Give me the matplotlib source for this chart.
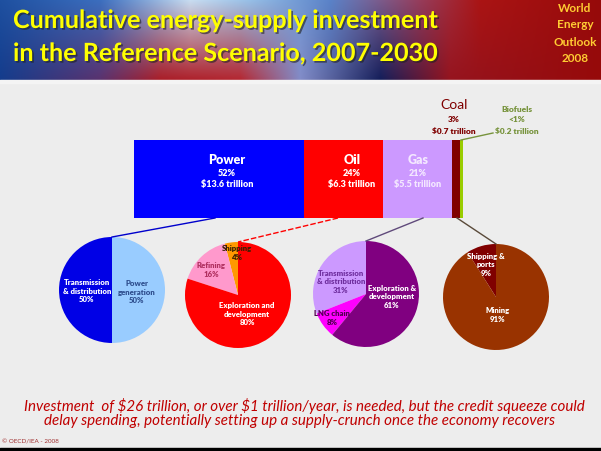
import numpy as np
import matplotlib
matplotlib.use("Agg")
from matplotlib import pyplot as plt
import matplotlib.patheffects as pe

plt.rcParams['font.family'] = ['Lato', 'DejaVu Sans']
plt.rcParams['text.parse_math'] = False

# data
sectors = ["Power", "Oil", "Gas", "Coal", "Biofuels"]
invest_trillion = [13.6, 6.3, 5.5, 0.7, 0.2]
sector_shares = ["52%", "24%", "21%", "3%", "<1%"]
sector_colors = ["#0000FF", "#FF0000", "#CC99FF", "#800000", "#99CC00"]

# breakdowns, listed counter-clockwise from 12 o'clock
power_parts = ["Transmission\n& distribution", "Power\ngeneration"]
power_shares = [50, 50]
oil_parts = ["Shipping", "Refining", "Exploration and\ndevelopment"]
oil_shares = [4, 16, 80]
gas_parts = ["Transmission\n& distribution", "LNG chain", "Exploration &\ndevelopment"]
gas_shares = [31, 8, 61]
coal_parts = ["Shipping &\nports", "Mining"]
coal_shares = [9, 91]

W, H = 601, 451
BG = "#EDEDED"

fig = plt.figure(figsize=(W / 100, H / 100), dpi=100)
fig.patch.set_facecolor(BG)

# background axes in pixel coords
bg = fig.add_axes([0, 0, 1, 1])
bg.set_xlim(0, W)
bg.set_ylim(H, 0)
bg.axis('off')
bg.set_facecolor(BG)

# header picture: rough blue / white / red blend
xs = np.arange(W)
top_stops = [(0, (30, 80, 160)), (100, (60, 110, 190)), (190, (200, 220, 240)), (250, (150, 190, 230)),
             (330, (90, 130, 200)), (420, (150, 60, 90)), (480, (170, 20, 20)), (601, (150, 10, 10))]
bot_stops = [(0, (20, 60, 140)), (100, (90, 50, 110)), (160, (170, 30, 40)), (240, (180, 40, 50)),
             (300, (130, 140, 200)), (380, (20, 30, 90)), (450, (150, 20, 30)), (601, (150, 10, 10))]


def ramp(stops):
    px = [s[0] for s in stops]
    return np.stack([np.interp(xs, px, [s[1][k] for s in stops]) for k in range(3)], axis=1)


top_row, bot_row = ramp(top_stops), ramp(bot_stops)
t = np.linspace(0, 1, 80)[:, None, None]
header = ((1 - t) * top_row[None] + t * bot_row[None]) / 255.0
bg.imshow(header, extent=(0, W, 80, 0), aspect='auto', interpolation='bilinear')
bg.fill_between([0, W], 80, 83, color="#F4F4F4")
bg.fill_between([0, W], 448, 451, color="black")

# stacked bar
total = sum(invest_trillion)
bar_left, bar_right, bar_top, bar_bot = 134, 463, 140, 218
bar_ax = fig.add_axes([bar_left / W, (H - bar_bot) / H, (bar_right - bar_left) / W, (bar_bot - bar_top) / H])
lefts = np.concatenate([[0], np.cumsum(invest_trillion)[:-1]])
bar_ax.barh(0.5, invest_trillion, left=lefts, height=1, color=sector_colors, linewidth=0)
bar_ax.set_xlim(0, total)
bar_ax.set_ylim(0, 1)
bar_ax.axis('off')

# pies
R = 53
pie_centres = [(112, 290), (238, 295), (366, 294), (496, 297)]
pie_colors = [["#0000E6", "#99CCFF"],
              ["#FF9900", "#FF99CC", "#FF0000"],
              ["#CC99FF", "#FF00FF", "#800080"],
              ["#800000", "#993300"]]
all_shares = [power_shares, oil_shares, gas_shares, coal_shares]
for (cx, cy), shares, cols in zip(pie_centres, all_shares, pie_colors):
    ax = fig.add_axes([(cx - R) / W, (H - cy - R) / H, 2 * R / W, 2 * R / H])
    ax.pie(shares, colors=cols, startangle=90, counterclock=True, radius=1,
           wedgeprops=dict(linewidth=0))
    ax.set_xlim(-1, 1)
    ax.set_ylim(-1, 1)
    ax.axis('off')

# overlay for text and leader lines
top = fig.add_axes([0, 0, 1, 1])
top.set_xlim(0, W)
top.set_ylim(H, 0)
top.axis('off')
top.patch.set_alpha(0)

shadow = [pe.withSimplePatchShadow(offset=(1.2, -1.2), shadow_rgbFace='#202020', alpha=0.6)]
t1 = top.text(13, 28, "Cumulative energy-supply investment", color="#FFFF00", fontsize=18,
              fontweight='bold', ha='left', va='baseline', path_effects=shadow)
t2 = top.text(13, 61, "in the Reference Scenario, 2007-2030", color="#FFFF00", fontsize=18,
              fontweight='bold', ha='left', va='baseline', path_effects=shadow)
for txt, yy in zip(["World", "Energy", "Outlook", "2008"], [9, 25, 42, 59]):
    top.text(575, yy, txt, color="#FFCC33", fontsize=8.5, fontweight='bold', ha='center', va='center')

# bar labels
bar_lab_x = [227, 352, 418]
bar_lab_col = ["white", "white", "#F4E8FF"]
for i, x in enumerate(bar_lab_x):
    top.text(x, 160, sectors[i], color=bar_lab_col[i], fontsize=9, fontweight='heavy', ha='center', va='center')
    top.text(x, 173, sector_shares[i], color=bar_lab_col[i], fontsize=6.5, fontweight='heavy', ha='center', va='center')
    top.text(x, 185, f"${invest_trillion[i]} trillion", color=bar_lab_col[i], fontsize=6.5, fontweight='heavy',
             ha='center', va='center')

top.text(454, 105, sectors[3], color="#7F0000", fontsize=10, ha='center', va='center')
top.text(454, 120, sector_shares[3], color="#7F0000", fontsize=6, fontweight='heavy', ha='center', va='center')
top.text(454, 132, f"${invest_trillion[3]} trillion", color="#7F0000", fontsize=6, fontweight='heavy',
         ha='center', va='center')
top.text(517, 109, sectors[4], color="#77933C", fontsize=6, fontweight='heavy', ha='center', va='center')
top.text(517, 120, sector_shares[4], color="#77933C", fontsize=6, fontweight='heavy', ha='center', va='center')
top.text(517, 132, f"${invest_trillion[4]} trillion", color="#77933C", fontsize=6, fontweight='heavy',
         ha='center', va='center')
top.plot([461, 493], [140, 133], color="#77933C", lw=1)

# leader lines bar -> pies
lead_x = [215, 338, 423, 457]
lead_col = ["#0000CC", "#FF0000", "#604A7B", "#5A4A3A"]
lead_ls = ['-', (0, (4, 1.5)), '-', '-']
for x0, (cx, cy), c, ls in zip(lead_x, pie_centres, lead_col, lead_ls):
    top.plot([x0, cx], [bar_bot, cy - R], color=c, lw=1, ls=ls)

# pie labels
pie_lab = [
    [(87, 291, "white"), (137, 292, "#2F4F8F")],
    [(237, 253, "#3A2000"), (211, 270, "#B03060"), (247, 314, "white")],
    [(341, 282, "#7030A0"), (332, 318, "#500050"), (392, 297, "white")],
    [(486, 265, "white"), (498, 315, "white")],
]
all_parts = [power_parts, oil_parts, gas_parts, coal_parts]
for parts, shares, labs in zip(all_parts, all_shares, pie_lab):
    for name, s, (x, y, c) in zip(parts, shares, labs):
        top.text(x, y, f"{name}\n{s}%", color=c, fontsize=5.6, fontweight='heavy', ha='center', va='center',
                 linespacing=1.2)

# footer
f1 = top.text(304, 411, "Investment  of $26 trillion, or over $1 trillion/year, is needed, but the credit squeeze could",
              color="#C00000", fontsize=9.5, style='italic', ha='center', va='baseline')
f2 = top.text(300, 425, "delay spending, potentially setting up a supply-crunch once the economy recovers",
              color="#C00000", fontsize=9.5, style='italic', ha='center', va='baseline')
top.text(2, 442, "© OECD/IEA - 2008", color="#A03030", fontsize=4.5, ha='left', va='center')

# squeeze title and footer to the slide widths
fig.canvas.draw()
rend = fig.canvas.get_renderer()
k = 425 / t1.get_window_extent(rend).width
for tx in (t1, t2):
    tx.set_fontsize(tx.get_fontsize() * k)
k = 566 / f1.get_window_extent(rend).width
for tx in (f1, f2):
    tx.set_fontsize(tx.get_fontsize() * k)

plt.savefig("out.png", dpi=100, facecolor=fig.get_facecolor())
